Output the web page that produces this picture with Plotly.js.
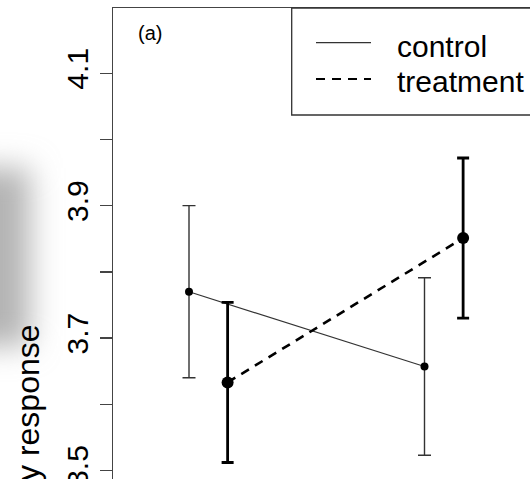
<!DOCTYPE html>
<html>
<head>
<meta charset="utf-8">
<script src="https://cdn.plot.ly/plotly-3.0.1.min.js"></script>
<style>html,body{margin:0;padding:0;background:#fff;overflow:hidden}</style>
</head>
<body>
<div id="chart" style="width:530px;height:479px"></div>
<script>
// ---- data ----
const time = [1, 2];
const controlMean = [3.770, 3.657];
const controlErr = [0.130, 0.134];
const treatmentMean = [3.633, 3.851];
const treatmentErr = [0.121, 0.121];
const groupNames = ["control", "treatment"];
const yTickVals = [3.5, 3.6, 3.7, 3.8, 3.9, 4.0, 4.1];
const yTickText = ["3.5", "", "3.7", "", "3.9", "", "4.1"];
const panelLabel = "(a)";
const yTitle = "y response";

// ---- style ----
const dodge = 0.082;
const FONT = "Liberation Sans, Arial, sans-serif";
const W = 530, H = 479, ML = 113, MT = 8;
const PW = W - ML, PH = H - MT;
const px2x = p => (p - ML) / PW;
const px2y = p => (H - p) / PH;

const dataLineDash = "9px,7px";

const traces = [
  {
    type: "scatter", mode: "lines+markers", name: groupNames[0],
    x: time.map(t => t - dodge), y: controlMean,
    line: {color: "#333", width: 1.2},
    marker: {color: "#000", size: 8},
    error_y: {type: "data", array: controlErr, visible: true, color: "#333", thickness: 1.4, width: 6.5},
    showlegend: false, cliponaxis: false
  },
  {
    type: "scatter", mode: "lines+markers", name: groupNames[1],
    x: time.map(t => t + dodge), y: treatmentMean,
    line: {color: "#000", width: 2.6, dash: dataLineDash},
    marker: {color: "#000", size: 12},
    error_y: {type: "data", array: treatmentErr, visible: true, color: "#000", thickness: 2.8, width: 6},
    showlegend: false, cliponaxis: false
  }
];

const shadowSvg = "<svg xmlns='http://www.w3.org/2000/svg' width='100' height='320' viewBox='0 0 100 320'>" +
  "<defs><filter id='b' x='-100%' y='-50%' width='300%' height='200%'><feGaussianBlur stdDeviation='15'/></filter></defs>" +
  "<rect x='-40' y='68' width='70' height='178' fill='#b4b4b4' filter='url(#b)'/></svg>";

const layout = {
  width: W, height: H,
  margin: {l: ML, r: 0, t: MT, b: 0, pad: 0},
  paper_bgcolor: "#fff", plot_bgcolor: "#fff",
  font: {family: FONT, color: "#000", size: 30},
  showlegend: false,
  xaxis: {
    range: [0.5953, 2.366], side: "top", showline: true, linecolor: "#444", linewidth: 1.3,
    showgrid: false, zeroline: false, showticklabels: false, ticks: ""
  },
  yaxis: {
    range: [3.4871, 4.1986], showline: true, linecolor: "#444", linewidth: 1.3,
    showgrid: false, zeroline: false,
    tickmode: "array", tickvals: yTickVals, ticktext: yTickText,
    ticks: "outside", ticklen: 12, tickwidth: 1.3, tickcolor: "#444",
    tickangle: -90, ticklabeloverflow: "allow",
    tickfont: {family: FONT, size: 30, color: "#000"}
  },
  images: [{
    source: "data:image/svg+xml;charset=utf-8," + encodeURIComponent(shadowSvg),
    xref: "paper", yref: "paper",
    x: px2x(0), y: px2y(100), sizex: px2x(100) - px2x(0), sizey: px2y(100) - px2y(420),
    xanchor: "left", yanchor: "top", sizing: "stretch", layer: "below"
  }],
  shapes: [
    {type: "rect", xref: "paper", yref: "paper", x0: px2x(291.7), x1: 1.05, y0: px2y(115), y1: px2y(8),
     line: {color: "#333", width: 1.3}, fillcolor: "rgba(0,0,0,0)"},
    {type: "line", xref: "paper", yref: "paper", x0: px2x(316), x1: px2x(371), y0: px2y(42.7), y1: px2y(42.7),
     line: {color: "#333", width: 1.2}},
    {type: "line", xref: "paper", yref: "paper", x0: px2x(316), x1: px2x(371), y0: px2y(79), y1: px2y(79),
     line: {color: "#000", width: 2.2, dash: dataLineDash}}
  ],
  annotations: [
    {text: groupNames[0], xref: "paper", yref: "paper", x: px2x(395), y: px2y(46.3),
     xanchor: "left", yanchor: "middle", showarrow: false, font: {family: FONT, size: 30, color: "#000"}},
    {text: groupNames[1], xref: "paper", yref: "paper", x: px2x(395), y: px2y(81.3),
     xanchor: "left", yanchor: "middle", showarrow: false, font: {family: FONT, size: 30, color: "#000"}},
    {text: panelLabel, xref: "paper", yref: "paper", x: px2x(150), y: px2y(33.5),
     xanchor: "center", yanchor: "middle", showarrow: false, font: {family: FONT, size: 20, color: "#000"}},
    {text: yTitle, xref: "paper", yref: "paper", x: px2x(28), y: px2y(403), textangle: -90,
     xanchor: "center", yanchor: "middle", showarrow: false, font: {family: FONT, size: 32, color: "#000"}}
  ]
};

Plotly.newPlot("chart", traces, layout, {staticPlot: true, displayModeBar: false});
</script>
</body>
</html>
